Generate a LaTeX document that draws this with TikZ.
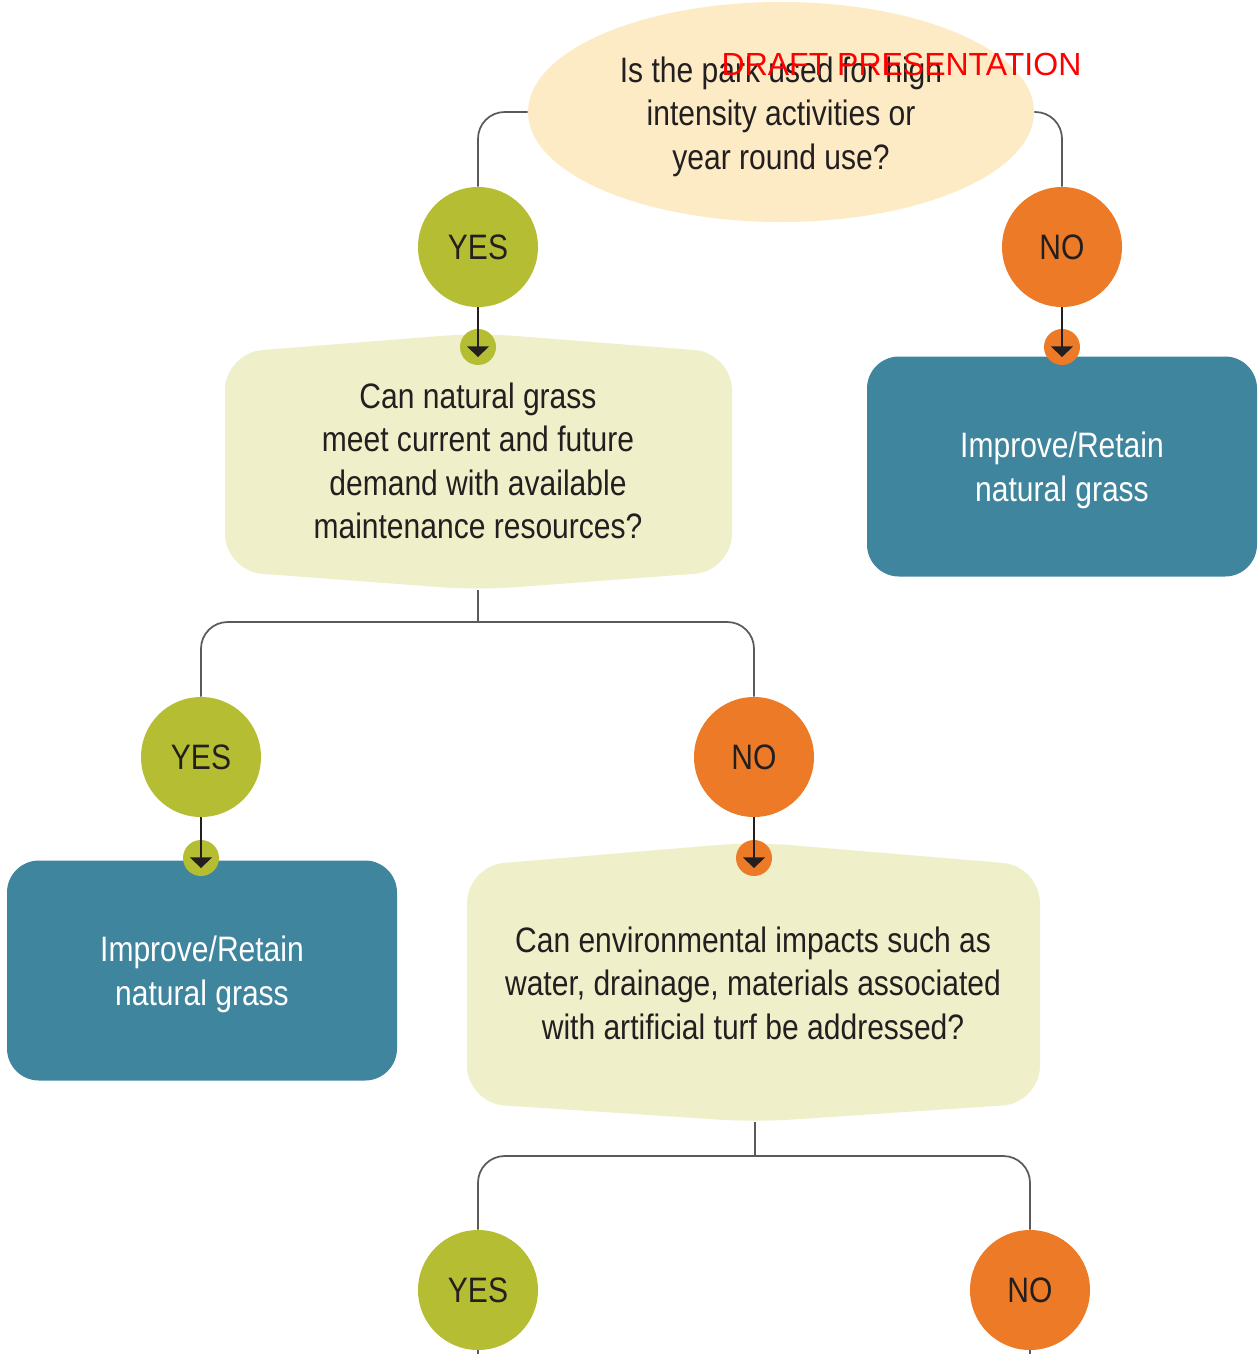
\documentclass[tikz,border=0pt]{standalone}
\usepackage{fontspec}
\setmainfont{Liberation Sans}
\newfontfamily\cond[FakeStretch=0.85]{Liberation Sans}
\usetikzlibrary{shapes.geometric,arrows.meta,calc}
\definecolor{peach}{RGB}{253,235,198}
\definecolor{qfill}{RGB}{239,240,201}
\definecolor{ygreen}{RGB}{181,190,50}
\definecolor{orng}{RGB}{236,122,38}
\definecolor{tealblue}{RGB}{63,133,158}
\definecolor{ink}{RGB}{35,31,32}
\definecolor{wire}{RGB}{90,90,90}
\begin{document}
\begin{tikzpicture}[x=0.75pt,y=-0.75pt,
  txt/.style={font=\cond\fontsize{26.5}{32.6}\selectfont, text=ink, align=center, inner sep=0pt},
  yesc/.style={circle, fill=ygreen, minimum size=90pt, txt},
  noc/.style={circle, fill=orng, minimum size=90pt, txt},
  outbox/.style={rectangle, rounded corners=24pt, fill=tealblue, minimum width=292.5pt, minimum height=165pt, inner sep=0pt},
  outtxt/.style={txt, text=white, yshift=-3pt},
  qbox/.style={txt},
  mk/.style={circle, minimum size=27pt, inner sep=0pt},
  conn/.style={draw=wire, line width=1.3pt, rounded corners=20pt},
  arr/.style={draw=ink, line width=1.2pt, -{Triangle[width=16.5pt,length=8pt]}},
]
\useasboundingbox[fill=white] (0,0) rectangle (1260,1354);

% question box outlines
\coordinate (q1t) at (478,333);
\coordinate (q1b) at (478,590);
\coordinate (q2t) at (753,842);
\coordinate (q2b) at (755,1122);
\fill[qfill, rounded corners=28pt] (q1t) -- (732,353) -- (732,571) -- (q1b) -- (225,571) -- (225,353) -- cycle;
\fill[qfill, rounded corners=28pt] (q2t) -- (1040,866) -- (1040,1103) -- (q2b) -- (467,1103) -- (467,866) -- cycle;

% top question
\node[ellipse, fill=peach, minimum width=379.5pt, minimum height=165pt, inner sep=0pt,
  label={[txt, yshift=-3.5pt]center:{Is the park used for high\\intensity activities or\\year round use?}}] (q0) at (781,112) {};

% answer circles
\node[yesc] (y1) at (478,247) {YES};
\node[noc]  (n1) at (1062,247) {NO};
\node[yesc] (y2) at (201,757) {YES};
\node[noc]  (n2) at (754,757) {NO};
\node[yesc] (y3) at (478,1290) {YES};
\node[noc]  (n3) at (1030,1290) {NO};

% outcome boxes
\node[outbox, label={[outtxt]center:{Improve/Retain\\natural grass}}] (o1) at (1062,466.5) {};
\node[outbox, label={[outtxt]center:{Improve/Retain\\natural grass}}] (o2) at (202,970.5) {};

% question texts
\node[qbox] (q1) at (478,461) {Can natural grass\\meet current and future\\demand with available\\maintenance resources?};
\node[qbox] (q2) at (753,983) {Can environmental impacts such as\\water, drainage, materials associated\\with artificial turf be addressed?};

% markers
\node[mk, fill=ygreen] (m1) at (478,347) {};
\node[mk, fill=orng]   (m2) at (1062,347) {};
\node[mk, fill=ygreen] (m3) at (201,858) {};
\node[mk, fill=orng]   (m4) at (754,858) {};

% arrows into markers
\draw[arr] (y1.south) -- ($(m1.center)+(0,10)$);
\draw[arr] (n1.south) -- ($(m2.center)+(0,10)$);
\draw[arr] (y2.south) -- ($(m3.center)+(0,10)$);
\draw[arr] (n2.south) -- ($(m4.center)+(0,10)$);

% connectors
\draw[conn] (q0.west) -| (y1.north);
\draw[conn] (q0.east) -| (n1.north);

\coordinate (j1) at (478,622);
\draw[conn] (q1b) -- (j1);
\draw[conn] (j1) -| (y2.north);
\draw[conn] (j1) -| (n2.north);

\coordinate (j2) at (755,1156);
\draw[conn] (q2b) -- (j2);
\draw[conn] (j2) -| (y3.north);
\draw[conn] (j2) -| (n3.north);

\coordinate (e1) at (478,1360);
\coordinate (e2) at (1030,1360);
\draw[conn] (y3.south) -- (e1);
\draw[conn] (n3.south) -- (e2);

% watermark
\node[font=\fontsize{24}{24}\selectfont, text=red, anchor=base, inner sep=0pt] (draft) at (901.5,75) {DRAFT PRESENTATION};
\end{tikzpicture}
\end{document}
